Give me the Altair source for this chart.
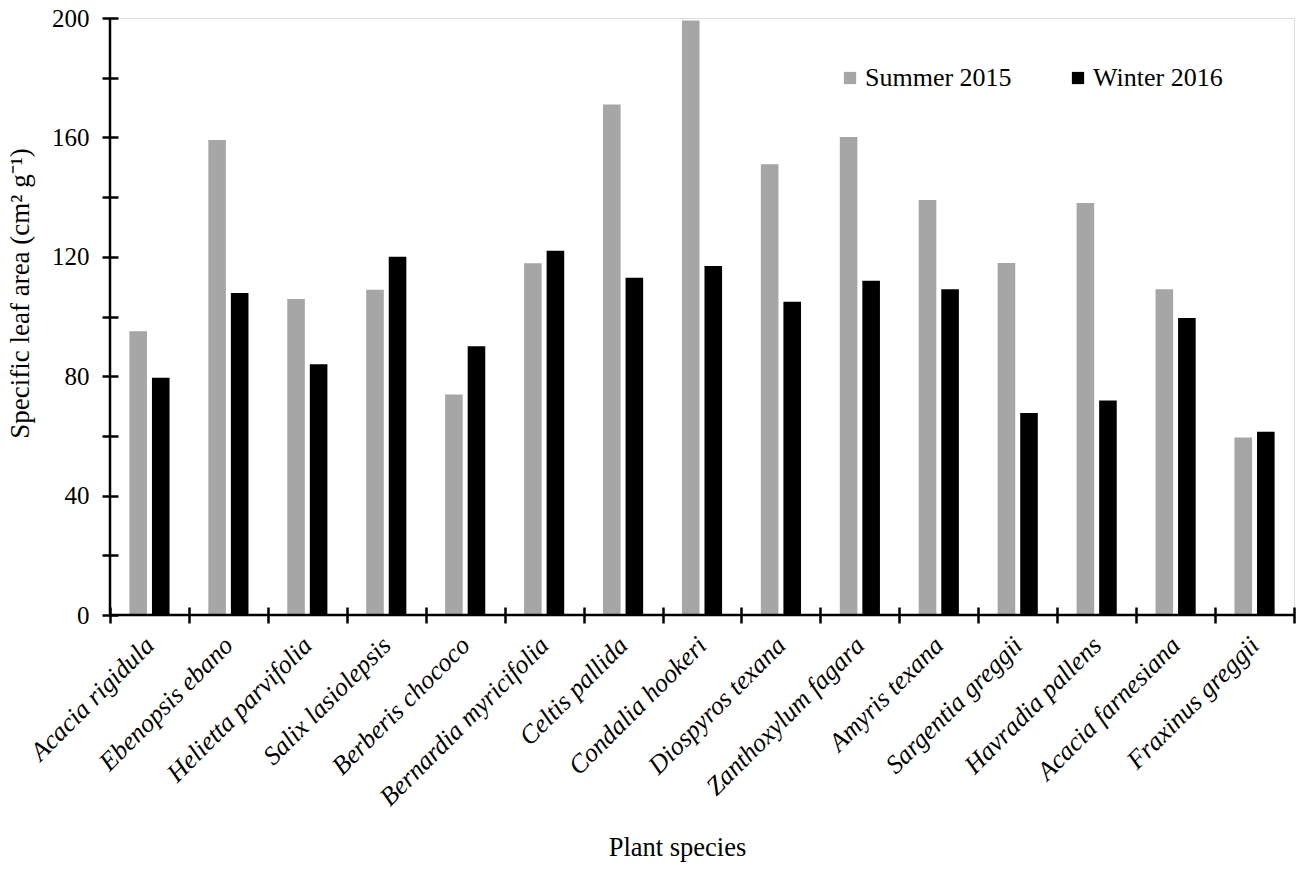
import altair as alt
import pandas as pd

# Specific leaf area per species, two sampling seasons
species = [
    "Acacia rigidula", "Ebenopsis ebano", "Helietta parvifolia", "Salix lasiolepsis",
    "Berberis chococo", "Bernardia myricifolia", "Celtis pallida", "Condalia hookeri",
    "Diospyros texana", "Zanthoxylum fagara", "Amyris texana", "Sargentia greggii",
    "Havradia pallens", "Acacia farnesiana", "Fraxinus greggii",
]
seasons = ["Summer 2015", "Winter 2016"]
summer_2015 = [95.1, 159.1, 105.9, 109.0, 73.9, 117.8, 171.0, 199.2, 151.0, 160.1,
               139.0, 117.9, 138.0, 109.1, 59.5]
winter_2016 = [79.5, 107.9, 84.0, 120.0, 90.0, 122.0, 113.0, 116.9, 104.9, 112.0,
               109.1, 67.7, 71.9, 99.5, 61.4]
season_colors = ["#a6a6a6", "#000000"]
y_ticks = list(range(0, 201, 20))

rows = []
for sp, s, w in zip(species, summer_2015, winter_2016):
    rows.append({"species": sp, "season": seasons[0], "sla": s})
    rows.append({"species": sp, "season": seasons[1], "sla": w})
df = pd.DataFrame(rows)

W, H = 1184, 597
FONT = "Liberation Serif"

bars = alt.Chart(df).mark_bar().encode(
    x=alt.X(
        "species:N",
        sort=species,
        scale=alt.Scale(paddingInner=0, paddingOuter=0),
        axis=alt.Axis(
            title="Plant species",
            titleFont=FONT,
            titleFontSize=26.5,
            titleFontWeight="normal",
            titleColor="black",
            titleX=567,
            titleY=248,
            titleBaseline="alphabetic",
            titleAlign="center",
            labelFont=FONT,
            labelFontStyle="italic",
            labelFontSize=26,
            labelColor="black",
            labelAngle=-45,
            labelAlign="right",
            labelBaseline="middle",
            labelPadding=18,
            labelLimit=0,
            labelOverlap=False,
            tickBand="extent",
            tickSize=16,
            tickWidth=2.5,
            tickColor="black",
            offset=-8,
            domain=False,
            grid=False,
        ),
    ),
    xOffset=alt.XOffset(
        "season:N",
        sort=seasons,
        scale=alt.Scale(paddingInner=0.22, paddingOuter=0.86),
    ),
    y=alt.Y(
        "sla:Q",
        scale=alt.Scale(domain=[0, 200], nice=False),
        axis=alt.Axis(
            title="Specific leaf area (cm² g⁻¹)",
            titleFont=FONT,
            titleFontSize=27,
            titleFontWeight="normal",
            titleColor="black",
            titleX=-84,
            titleY=275,
            titleAlign="center",
            labelFont=FONT,
            labelFontSize=25,
            labelColor="black",
            labelPadding=13,
            values=y_ticks,
            labelExpr="datum.value % 40 === 0 ? datum.label : ''",
            tickSize=16,
            tickWidth=2.5,
            tickColor="black",
            offset=-8,
            domain=False,
            grid=False,
        ),
    ),
    color=alt.Color(
        "season:N",
        sort=seasons,
        scale=alt.Scale(domain=seasons, range=season_colors),
        legend=alt.Legend(
            title=None,
            orient="none",
            legendX=727,
            legendY=47,
            direction="horizontal",
            symbolType="square",
            symbolSize=150,
            symbolStrokeWidth=0,
            labelFont=FONT,
            labelFontSize=26,
            labelColor="black",
            labelOffset=2,
            columnPadding=53,
            padding=0,
        ),
    ),
)

# Axis lines drawn through the scales
x_line = alt.Chart(pd.DataFrame({"v": [0]})).mark_rule(color="black", strokeWidth=2.5).encode(
    y=alt.Y("v:Q"), x=alt.value(0), x2=alt.value(W)
)
y_line = alt.Chart(pd.DataFrame({"lo": [0], "hi": [200]})).mark_rule(
    color="black", strokeWidth=2.5
).encode(
    x=alt.value(0), y=alt.Y("lo:Q"), y2="hi:Q"
)

chart = alt.layer(bars, x_line, y_line).properties(
    width=W,
    height=H,
    autosize=alt.AutoSizeParams(type="none"),
    padding={"left": 110, "top": 18, "right": 10, "bottom": 254},
).configure_view(stroke=None).configure(background="white")

chart.save("out.html", embed_options={"renderer": "svg", "actions": False})
